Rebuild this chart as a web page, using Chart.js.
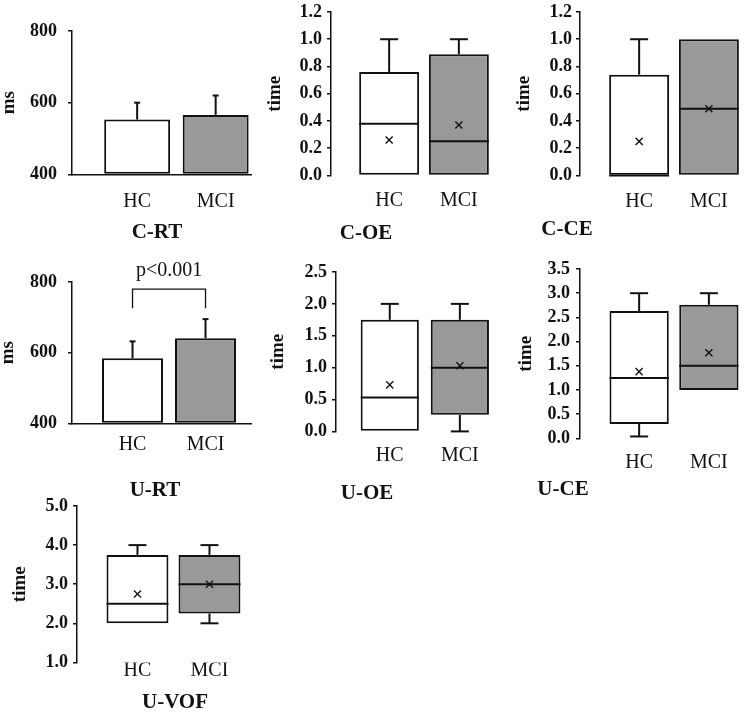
<!DOCTYPE html>
<html>
<head>
<meta charset="utf-8">
<script src="https://cdn.jsdelivr.net/npm/chart.js@4.4.0/dist/chart.umd.min.js"></script>
<style>
  html, body { margin: 0; padding: 0; background: #fff; }
  #wrap { position: relative; width: 749px; height: 712px; overflow: hidden; background: #fff; }
  #wrap canvas { position: absolute; }
</style>
</head>
<body>
<div id="wrap"></div>
<script>
const groups = ['HC', 'MCI'];

// reaction time, mean and SD (ms)
const rtTicks = [400, 600, 800];
const crtMean = [553, 566];
const crtSd = [47, 54];
const urtMean = [584, 641];
const urtSd = [48, 54];
const urtBracket = [726, 780]; // leg end, bracket top
const urtLabel = 'p<0.001';

// box plots, one value per group
const ceTicks = [0, 0.2, 0.4, 0.6, 0.8, 1.0, 1.2];
const coeMin = [0, 0];
const coeQ1 = [0, 0];
const coeMed = [0.38, 0.25];
const coeQ3 = [0.76, 0.89];
const coeMax = [1.0, 1.0];
const coeMean = [0.26, 0.37];

const cceMin = [0, 0];
const cceQ1 = [0, 0];
const cceMed = [0, 0.49];
const cceQ3 = [0.74, 1.0];
const cceMax = [1.0, 1.0];
const cceMean = [0.25, 0.49];

const uoeTicks = [0, 0.5, 1.0, 1.5, 2.0, 2.5];
const uoeMin = [0, 0];
const uoeQ1 = [0, 0.26];
const uoeMed = [0.53, 1.0];
const uoeQ3 = [1.75, 1.75];
const uoeMax = [2.0, 2.0];
const uoeMean = [0.73, 1.03];

const uceTicks = [0, 0.5, 1.0, 1.5, 2.0, 2.5, 3.0, 3.5];
const uceMin = [0.04, 1.0];
const uceQ1 = [0.3, 1.0];
const uceMed = [1.25, 1.5];
const uceQ3 = [2.63, 2.76];
const uceMax = [3.0, 3.0];
const uceMean = [1.38, 1.77];

const uvofTicks = [1.0, 2.0, 3.0, 4.0, 5.0];
const uvofMin = [2.0, 2.0];
const uvofQ1 = [2.0, 2.25];
const uvofMed = [2.5, 3.0];
const uvofQ3 = [3.75, 3.75];
const uvofMax = [4.0, 4.0];
const uvofMean = [2.75, 3.0];

const ink = '#111';
const fills = ['#ffffff', '#999999'];
const wrap = document.getElementById('wrap');

Chart.defaults.font.family = "'Liberation Serif', 'Times New Roman', serif";
Chart.defaults.color = ink;

// whiskers / error bars and medians
const whiskers = {
  id: 'whiskers',
  afterDatasetsDraw(chart, args, o) {
    const ctx = chart.ctx;
    const ys = chart.scales.y;
    const seg = (x1, y1, x2, y2) => { ctx.beginPath(); ctx.moveTo(x1, y1); ctx.lineTo(x2, y2); ctx.stroke(); };
    ctx.save();
    ctx.strokeStyle = ink;
    ctx.lineWidth = 2;
    chart.getDatasetMeta(0).data.forEach((bar, i) => {
      const x = bar.x, hw = bar.width / 2;
      if (o.hi && o.hi[i] > o.top[i]) {
        const a = ys.getPixelForValue(o.top[i]), b = ys.getPixelForValue(o.hi[i]);
        seg(x, a, x, b); seg(x - o.cap, b, x + o.cap, b);
      }
      if (o.lo && o.lo[i] < o.bottom[i]) {
        const a = ys.getPixelForValue(o.bottom[i]), b = ys.getPixelForValue(o.lo[i]);
        seg(x, a, x, b); seg(x - o.cap, b, x + o.cap, b);
      }
      if (o.mid) {
        const m = ys.getPixelForValue(o.mid[i]);
        seg(x - hw, m, x + hw, m);
      }
    });
    ctx.restore();
  }
};

const bracket = {
  id: 'bracket',
  afterDatasetsDraw(chart, args, o) {
    const {ctx, scales: {x, y}} = chart;
    const x1 = x.getPixelForValue(1), x2 = x.getPixelForValue(2);
    const yb = y.getPixelForValue(o.range[0]), yt = y.getPixelForValue(o.range[1]);
    ctx.save();
    ctx.strokeStyle = ink;
    ctx.lineWidth = 1.3;
    ctx.beginPath();
    ctx.moveTo(x1, yb); ctx.lineTo(x1, yt); ctx.lineTo(x2, yt); ctx.lineTo(x2, yb);
    ctx.stroke();
    ctx.fillStyle = ink;
    ctx.font = "20px 'Liberation Serif'";
    ctx.textAlign = 'center';
    ctx.textBaseline = 'middle';
    ctx.fillText(o.text, (x1 + x2) / 2, yt - 18);
    ctx.restore();
  }
};

function barSets(mean) {
  return [{
    type: 'bar', base: rtTicks[0], clip: false,
    data: groups.map((_, i) => ({ x: i + 1, y: mean[i] })),
    backgroundColor: fills, borderColor: ink, borderWidth: 2, borderSkipped: false
  }];
}

function boxSets(q1, q3, mean) {
  return [{
    type: 'bar', order: 1, clip: false,
    data: groups.map((_, i) => ({ x: i + 1, y: [q1[i], q3[i]] })),
    backgroundColor: fills, borderColor: ink, borderWidth: 2, borderSkipped: false
  }, {
    type: 'line', order: 0, clip: false, showLine: false,
    data: groups.map((_, i) => ({ x: i + 1, y: mean[i] })),
    pointStyle: 'crossRot', pointRadius: 5, pointBorderWidth: 1.4,
    borderColor: ink, backgroundColor: ink
  }];
}

function addPanel(g, ticks, fmt, datasets, plugins, pluginOpts) {
  // S: left edge of the y scale box, spacer: empty box right of the plot so the title lands where it should
  const S = Math.max(0, Math.min(g.yTitleX - 12, g.tickRight - 34, 2 * g.titleX - g.right));
  const spacer = Math.max(0, 2 * g.titleX - S - g.right);
  const padTop = g.padTop || 14;
  const xh = g.titleY - g.bottom - 12.6;
  const W = Math.round(g.right + spacer - S);
  const H = Math.round(padTop + (g.bottom - g.top) + xh + 25.2);
  const cv = document.createElement('canvas');
  cv.width = W;
  cv.height = H;
  cv.style.left = S + 'px';
  cv.style.top = (g.top - padTop) + 'px';
  wrap.appendChild(cv);

  const xmin = 1 - g.off;
  const xmax = xmin + (g.right - g.axisX) / g.spacing;

  new Chart(cv, {
    type: 'bar',
    data: { datasets: datasets },
    plugins: plugins,
    options: {
      responsive: false,
      animation: false,
      events: [],
      layout: { padding: { left: 0, top: padTop, right: 0, bottom: 0 } },
      datasets: { bar: { barPercentage: g.barPct, categoryPercentage: 1 } },
      plugins: Object.assign({
        legend: { display: false },
        tooltip: { enabled: false },
        title: {
          display: true, text: g.title, position: 'bottom', fullSize: true,
          padding: 0, color: ink, font: { size: 21, weight: 'bold', lineHeight: 1.2 }
        }
      }, pluginOpts),
      scales: {
        x: {
          type: 'linear', min: xmin, max: xmax, offset: false,
          afterBuildTicks: s => { s.ticks = groups.map((_, i) => ({ value: i + 1 })); },
          afterFit: s => { s.height = xh; },
          grid: { display: false, drawTicks: false },
          border: { display: !!g.xLine, color: ink, width: 1.5 },
          ticks: {
            padding: g.labelY - g.bottom - 12, color: ink, autoSkip: false, maxRotation: 0,
            font: { size: 20, lineHeight: 1.2 },
            callback: v => groups[Math.round(v) - 1]
          }
        },
        y: {
          min: ticks[0], max: ticks[ticks.length - 1],
          afterBuildTicks: s => { s.ticks = ticks.map(v => ({ value: v })); },
          afterFit: s => { s.width = g.axisX - S; },
          grid: { drawOnChartArea: false, drawTicks: true, tickLength: 4, color: ink, lineWidth: 1.5 },
          border: { display: true, color: ink, width: 1.5 },
          ticks: {
            padding: g.axisX - 4 - g.tickRight, color: ink, autoSkip: false,
            font: { size: 18, weight: 'bold', lineHeight: 1 },
            callback: v => fmt(v)
          },
          title: {
            display: true, text: g.yTitle, color: ink,
            padding: { top: g.yTitleX - S - 11.4, bottom: 0 },
            font: { size: 19, weight: 'bold', lineHeight: 1.2 }
          }
        },
        pad: {
          axis: 'y', position: 'right', display: spacer > 0,
          afterFit: s => { s.width = spacer; },
          grid: { display: false }, border: { display: false }, ticks: { display: false }
        }
      }
    }
  });
}

const intFmt = v => String(v);
const decFmt = v => v.toFixed(1);
const plus = (a, b) => a.map((v, i) => v + b[i]);

// C-RT
addPanel(
  { title: 'C-RT', yTitle: 'ms', axisX: 72, top: 25, bottom: 174, spacing: 78.5, off: 0.83, right: 251,
    titleX: 157, titleY: 232, labelY: 201, yTitleX: 9, tickRight: 57, barPct: 0.84, xLine: true },
  rtTicks, intFmt, barSets(crtMean), [whiskers],
  { whiskers: { top: crtMean, hi: plus(crtMean, crtSd), cap: 3 } });

// C-OE
addPanel(
  { title: 'C-OE', yTitle: 'time', axisX: 331, top: 12, bottom: 175, spacing: 72.5, off: 0.834, right: 498,
    titleX: 366, titleY: 233, labelY: 200, yTitleX: 275, tickRight: 322, barPct: 0.86 },
  ceTicks, decFmt, boxSets(coeQ1, coeQ3, coeMean), [whiskers],
  { whiskers: { top: coeQ3, hi: coeMax, bottom: coeQ1, lo: coeMin, mid: coeMed, cap: 9 } });

// C-CE
addPanel(
  { title: 'C-CE', yTitle: 'time', axisX: 580, top: 12, bottom: 175, spacing: 72.5, off: 0.848, right: 748,
    titleX: 567, titleY: 229, labelY: 201, yTitleX: 524, tickRight: 572, barPct: 0.86 },
  ceTicks, decFmt, boxSets(cceQ1, cceQ3, cceMean), [whiskers],
  { whiskers: { top: cceQ3, hi: cceMax, bottom: cceQ1, lo: cceMin, mid: cceMed, cap: 9 } });

// U-RT
addPanel(
  { title: 'U-RT', yTitle: 'ms', axisX: 72, top: 282, bottom: 423, spacing: 73, off: 0.829, right: 251,
    titleX: 155, titleY: 490, labelY: 444, yTitleX: 8, tickRight: 57, barPct: 0.836, xLine: true, padTop: 28 },
  rtTicks, intFmt, barSets(urtMean), [whiskers, bracket],
  { whiskers: { top: urtMean, hi: plus(urtMean, urtSd), cap: 3 },
    bracket: { range: urtBracket, text: urtLabel } });

// U-OE
addPanel(
  { title: 'U-OE', yTitle: 'time', axisX: 336, top: 272, bottom: 431, spacing: 73, off: 0.767, right: 497,
    titleX: 367, titleY: 493, labelY: 455, yTitleX: 278, tickRight: 327, barPct: 0.83 },
  uoeTicks, decFmt, boxSets(uoeQ1, uoeQ3, uoeMean), [whiskers],
  { whiskers: { top: uoeQ3, hi: uoeMax, bottom: uoeQ1, lo: uoeMin, mid: uoeMed, cap: 9 } });

// U-CE
addPanel(
  { title: 'U-CE', yTitle: 'time', axisX: 580, top: 268, bottom: 438, spacing: 72.5, off: 0.848, right: 748,
    titleX: 563, titleY: 489, labelY: 462, yTitleX: 526, tickRight: 570, barPct: 0.85 },
  uceTicks, decFmt, boxSets(uceQ1, uceQ3, uceMean), [whiskers],
  { whiskers: { top: uceQ3, hi: uceMax, bottom: uceQ1, lo: uceMin, mid: uceMed, cap: 9 } });

// U-VOF
addPanel(
  { title: 'U-VOF', yTitle: 'time', axisX: 77, top: 506, bottom: 662, spacing: 72, off: 0.84, right: 244,
    titleX: 175, titleY: 702, labelY: 670, yTitleX: 20, tickRight: 68, barPct: 0.86 },
  uvofTicks, decFmt, boxSets(uvofQ1, uvofQ3, uvofMean), [whiskers],
  { whiskers: { top: uvofQ3, hi: uvofMax, bottom: uvofQ1, lo: uvofMin, mid: uvofMed, cap: 9 } });
</script>
</body>
</html>
